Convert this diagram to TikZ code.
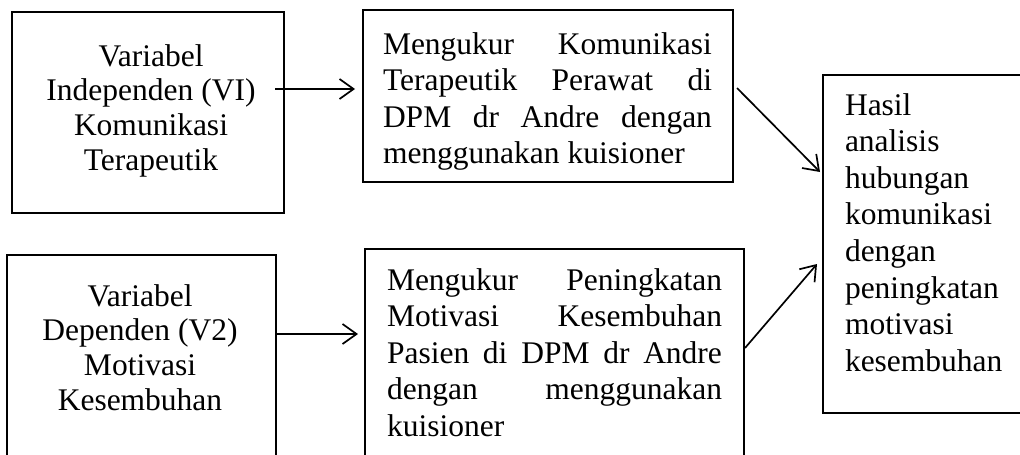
\documentclass[tikz,border=0pt]{standalone}
\usepackage{fontspec}
\setmainfont{Liberation Serif}
\usetikzlibrary{arrows.meta,calc}
\newcommand\jline[2]{\makebox[#1][s]{#2}}
\begin{document}
\begin{tikzpicture}[x=1pt,y=-1pt,
  box/.style={draw,line width=2pt,anchor=north west,inner sep=0pt,outer sep=0pt},
  txt/.style={inner sep=0pt,outer sep=0pt,font=\fontsize{31.5pt}{34.8pt}\selectfont},
  txtw/.style={inner sep=0pt,outer sep=0pt,font=\fontsize{31.5pt}{36.6pt}\selectfont},
  arr/.style={line width=1.7pt,-{Straight Barb[length=14pt,width=20pt,line width=1.7pt]}}]
\useasboundingbox (0,0) rectangle (1020,455);
\clip (0,0) rectangle (1020,455);
% boxes
\node[box,minimum width=272pt,minimum height=201pt] (v1) at (12,12) {};
\node[box,minimum width=370pt,minimum height=172pt] (m1) at (363,10) {};
\node[box,minimum width=269pt,minimum height=240pt] (v2) at (7,255) {};
\node[box,minimum width=379pt,minimum height=240pt] (m2) at (365,249) {};
\node[box,minimum width=240pt,minimum height=338pt] (h) at (823,75) {};
% texts (base anchor = baseline of the last line)
\node[txt,align=center,anchor=base] (t1) at (151,170.4) {Variabel\\Independen (VI)\\Komunikasi\\Terapeutik};
\node[txtw,align=left,anchor=base west] (t2) at (383,163.8) {\jline{329pt}{Mengukur Komunikasi}\\\jline{329pt}{Terapeutik Perawat di}\\\jline{329pt}{DPM dr Andre dengan}\\menggunakan kuisioner};
\node[txt,align=center,anchor=base] (t3) at (140,410.4) {Variabel\\Dependen (V2)\\Motivasi\\Kesembuhan};
\node[txtw,align=left,anchor=base west] (t4) at (387,436.4) {\jline{335pt}{Mengukur Peningkatan}\\\jline{335pt}{Motivasi Kesembuhan}\\\jline{335pt}{Pasien di DPM dr Andre}\\\jline{335pt}{dengan menggunakan}\\kuisioner};
\node[txtw,align=left,anchor=base west] (t5) at (845,371.2) {Hasil\\analisis\\hubungan\\komunikasi\\dengan\\peningkatan\\motivasi\\kesembuhan};
% connectors
\draw[arr] ($(v1.north east)+(-9,77)$) -- ($(m1.north west)+(-8,79)$);
\draw[arr] ($(v2.north east)+(0,79)$) -- ($(m2.north west)+(-7,85)$);
\draw[arr] ($(m1.north east)+(4,78)$) -- ($(h.north west)+(-3,97)$);
\draw[arr] ($(m2.north east)+(1,99)$) -- ($(h.north west)+(-6,189)$);
\end{tikzpicture}
\end{document}
